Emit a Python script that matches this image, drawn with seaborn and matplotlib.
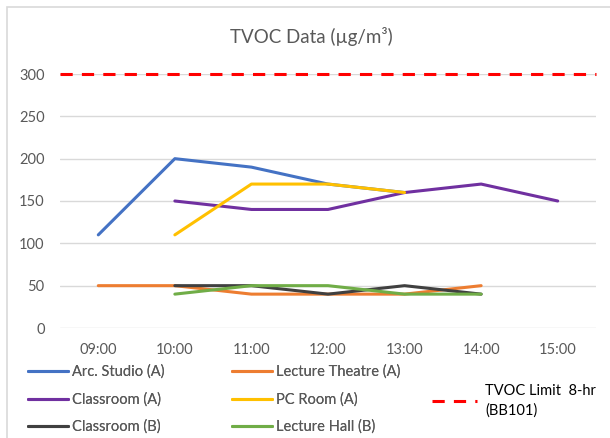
import matplotlib
matplotlib.use("Agg")
import matplotlib.pyplot as plt
import seaborn as sns
import pandas as pd
import numpy as np
from matplotlib.lines import Line2D
from matplotlib.patches import Rectangle

times = ["09:00", "10:00", "11:00", "12:00", "13:00", "14:00", "15:00"]
arc_studio_a = [110, 200, 190, 170, 160, None, None]
lecture_theatre_a = [50, 50, 40, 40, 40, 50, None]
classroom_a = [None, 150, 140, 140, 160, 170, 150]
pc_room_a = [None, 110, 170, 170, 160, None, None]
classroom_b = [None, 50, 50, 40, 50, 40, None]
lecture_hall_b = [None, 40, 50, 50, 40, 40, None]
tvoc_limit = 300
limit_label = "TVOC Limit  8-hr\n(BB101)"
title = "TVOC Data (µg/m³)"

series = {
    "Arc. Studio (A)": arc_studio_a,
    "Lecture Theatre (A)": lecture_theatre_a,
    "Classroom (A)": classroom_a,
    "PC Room (A)": pc_room_a,
    "Classroom (B)": classroom_b,
    "Lecture Hall (B)": lecture_hall_b,
}
colors = {
    "Arc. Studio (A)": "#4472C4",
    "Lecture Theatre (A)": "#ED7D31",
    "Classroom (A)": "#7030A0",
    "PC Room (A)": "#FFC000",
    "Classroom (B)": "#404040",
    "Lecture Hall (B)": "#70AD47",
}

rows = []
for name, vals in series.items():
    for i, v in enumerate(vals):
        if v is not None:
            rows.append({"x": i, "value": v, "series": name})
df = pd.DataFrame(rows)

sns.set_style("white")
plt.rcParams["font.family"] = ["Lato", "DejaVu Sans"]

W, H = 610, 438
fig = plt.figure(figsize=(6.1, 4.38), dpi=100)
ax = fig.add_axes([60 / W, 1 - 328 / H, 536 / W, 254 / H])

sns.lineplot(data=df, x="x", y="value", hue="series", palette=colors,
             hue_order=list(series.keys()), linewidth=2.2, ax=ax,
             legend=False, estimator=None)
ax.plot([-0.5, 6.5], [tvoc_limit, tvoc_limit], color="#FF0000",
        linestyle=(0, (4, 3)), linewidth=2.2, clip_on=False, zorder=5)

ax.set_xlim(-0.5, 6.5)
ax.set_ylim(0, 300)
ax.set_yticks(np.arange(0, 301, 50))
ax.set_xticks(range(len(times)))
ax.set_xticklabels(times)
ax.grid(axis="y", color="#D9D9D9", linewidth=1)
ax.set_axisbelow(True)
for s in ax.spines.values():
    s.set_visible(False)
ax.tick_params(axis="both", length=0, labelsize=10.5, colors="#595959", pad=11)
ax.set_xlabel("")
ax.set_ylabel("")

fig.text(311 / W, 1 - 37 / H, title, ha="center", va="center",
         fontsize=13.5, color="#595959")

names = list(series.keys())
col1 = [names[0], names[2], names[4]]
col2 = [names[1], names[3], names[5]]
common = dict(frameon=False, fontsize=10.5, handlelength=2.75,
              handletextpad=0.3, labelspacing=0.9, borderpad=0,
              borderaxespad=0, loc="center left")
for col, x0 in ((col1, 28), (col2, 232)):
    hs = [Line2D([], [], color=colors[n], linewidth=2.2) for n in col]
    lg = fig.legend(hs, col, bbox_to_anchor=(x0 / W, 1 - 399.5 / H),
                    labelcolor="#595959", **common)
    fig.add_artist(lg)
h2 = [Line2D([], [], color="#FF0000", linewidth=2.2, linestyle=(0, (4, 3)))]
lg3 = fig.legend(h2, [limit_label], bbox_to_anchor=(432 / W, 1 - 401 / H),
                 labelcolor="#000000", **{**common, "handletextpad": 0.55,
                                          "handlelength": 3.1})
for t in lg3.get_texts():
    t.set_linespacing(1.45)

fig.add_artist(Rectangle((7 / W, -0.05), 1.2, 1 - 7 / H + 0.05,
                         transform=fig.transFigure, fill=False,
                         edgecolor="#D9D9D9", linewidth=1.2))

fig.savefig("out.png", dpi=100)
